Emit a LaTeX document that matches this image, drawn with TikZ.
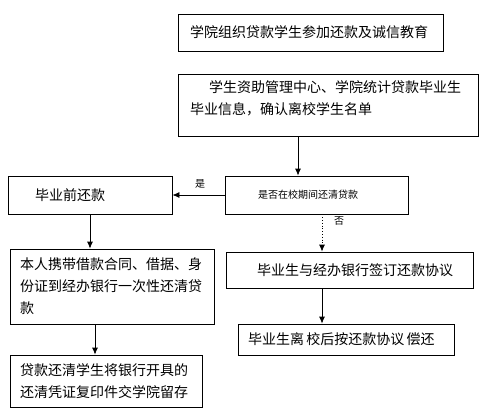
\documentclass[tikz,border=0pt]{standalone}
\usepackage{fontspec}
\newfontfamily\cjk{Noto Sans CJK SC}
\usetikzlibrary{arrows.meta}

\begin{document}
\begin{tikzpicture}[x=1pt,y=-1pt,
    box/.style={draw,line width=0.8pt,font=\cjk\fontsize{14}{22}\selectfont,align=left,inner ysep=0pt},
    small/.style={font=\cjk\fontsize{10}{12}\selectfont,inner sep=0pt},
    arr/.style={line width=0.8pt,-{Latex[length=7pt,width=6pt]}}]
    \useasboundingbox[fill=white] (0,0) rectangle (495,418);
    % Boxes
    \node[box,inner xsep=12pt,text width=241pt,minimum height=37pt] (edu) at (310.5,32.5) {学院组织贷款学生参加还款及诚信教育};
    \node[box,inner xsep=12pt,text width=276pt,minimum height=62pt] (info) at (328,105)
        {\hspace*{19pt}学生资助管理中心、学院统计贷款毕业生\\毕业信息，确认离校学生名单\\[-8pt]\mbox{}};
    \node[box,small,inner xsep=33pt,inner ysep=0pt,text width=117pt,minimum height=38pt,align=left] (ask) at (316.5,195) {是否在校期间还清贷款};
    \node[box,inner xsep=27pt,text width=110pt,minimum height=38pt] (early) at (90,195) {毕业前还款};
    \node[box,inner xsep=10pt,text width=184pt,minimum height=75pt] (bring) at (112,286.5)
        {本人携带借款合同、借据、身\\份证到经办银行一次性还清贷\\款};
    \node[box,inner xsep=10pt,text width=172pt,minimum height=52pt] (copy) at (106,381)
        {贷款还清学生将银行开具的\\还清凭证复印件交学院留存};
    \node[box,inner xsep=31pt,text width=185pt,minimum height=36pt] (sign) at (349.5,270) {毕业生与经办银行签订还款协议};
    \node[box,inner xsep=10pt,text width=196pt,minimum height=31pt] (after) at (346,339.5) {毕业生离\,校后按还款协议\,偿还};
    % Arrows
    \draw[arr] ([xshift=-30pt]info.south) -- ([xshift=-30pt]info.south |- ask.north);
    \draw[arr] (ask.west) -- (early.east);
    \node[small] (yes) at (200,184) {是};
    \draw[arr] (early.south) -- (early.south |- bring.north);
    \draw[arr] ([xshift=-17pt]bring.south) -- ([xshift=-17pt]bring.south |- copy.north);
    \draw[arr,dotted] ([xshift=5.5pt]ask.south) -- ([xshift=5.5pt]ask.south |- sign.north);
    \node[small] (no) at (339,221) {否};
    \draw[arr] ([xshift=-27.5pt]sign.south) -- ([xshift=-27.5pt]sign.south |- after.north);
\end{tikzpicture}
\end{document}
